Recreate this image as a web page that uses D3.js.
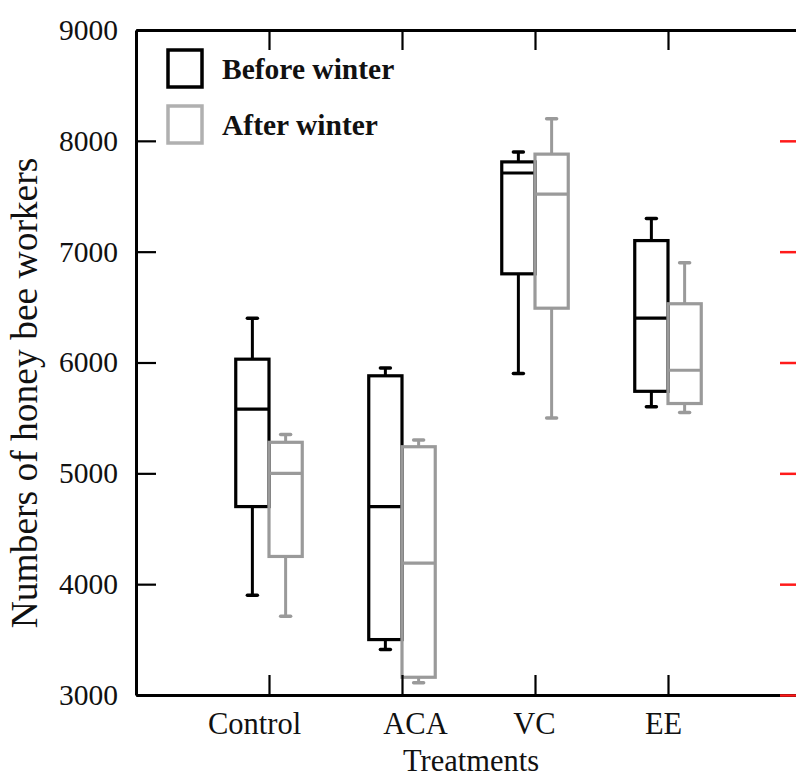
<!DOCTYPE html>
<html>
<head>
<meta charset="utf-8">
<script src="https://cdn.jsdelivr.net/npm/d3@7"></script>
<style>
  body { margin: 0; background: #fff; }
  svg { display: block; }
</style>
</head>
<body>
<script>
// Data
const categories = ["Control", "ACA", "VC", "EE"];
const yTicks = [3000, 4000, 5000, 6000, 7000, 8000, 9000];

// Before winter (black)
const beforeMin = [3900, 3410, 5900, 5600];
const beforeQ1  = [4700, 3500, 6800, 5740];
const beforeMed = [5580, 4700, 7710, 6400];
const beforeQ3  = [6030, 5880, 7810, 7100];
const beforeMax = [6400, 5950, 7900, 7300];

// After winter (gray)
const afterMin = [3710, 3110, 5500, 5550];
const afterQ1  = [4250, 3160, 6490, 5630];
const afterMed = [5000, 4190, 7520, 5930];
const afterQ3  = [5280, 5240, 7880, 6530];
const afterMax = [5350, 5300, 8200, 6900];

const width = 796, height = 780;
const font = "'Liberation Serif', 'Times New Roman', serif";

const svg = d3.select("body").append("svg")
    .attr("width", width)
    .attr("height", height)
    .style("font-family", font);

// scales
const x = d3.scaleLinear().domain([0, 5]).range([136, 801]);
const y = d3.scaleLinear().domain([3000, 9000]).range([695, 30]);
const boxW = 0.25; // in x units

const series = [
    { name: "Before winter", color: "#000", side: -1,
      min: beforeMin, q1: beforeQ1, med: beforeMed, q3: beforeQ3, max: beforeMax },
    { name: "After winter", color: "#9a9a9a", side: 1,
      min: afterMin, q1: afterQ1, med: afterMed, q3: afterQ3, max: afterMax }
];

// boxes
series.forEach(s => {
    const rows = categories.map((c, i) => ({
        i: i + 1, min: s.min[i], q1: s.q1[i], med: s.med[i], q3: s.q3[i], max: s.max[i]
    }));
    const g = svg.append("g")
        .attr("stroke", s.color)
        .attr("fill", "none");

    const x0 = d => s.side < 0 ? x(d.i - boxW) : x(d.i);
    const x1 = d => s.side < 0 ? x(d.i) : x(d.i + boxW);
    const xc = d => (x0(d) + x1(d)) / 2;

    // whiskers
    g.selectAll(".wu").data(rows).join("line")
        .attr("x1", xc).attr("x2", xc)
        .attr("y1", d => y(d.q3)).attr("y2", d => y(d.max))
        .attr("stroke-width", 3);
    g.selectAll(".wl").data(rows).join("line")
        .attr("x1", xc).attr("x2", xc)
        .attr("y1", d => y(d.q1)).attr("y2", d => y(d.min))
        .attr("stroke-width", 3);
    // caps
    g.selectAll(".cu").data(rows).join("line")
        .attr("x1", d => xc(d) - 5).attr("x2", d => xc(d) + 5)
        .attr("y1", d => y(d.max)).attr("y2", d => y(d.max))
        .attr("stroke-width", 3.5).attr("stroke-linecap", "round");
    g.selectAll(".cl").data(rows).join("line")
        .attr("x1", d => xc(d) - 5).attr("x2", d => xc(d) + 5)
        .attr("y1", d => y(d.min)).attr("y2", d => y(d.min))
        .attr("stroke-width", 3.5).attr("stroke-linecap", "round");
    // box
    g.selectAll(".box").data(rows).join("rect")
        .attr("x", x0)
        .attr("width", d => x1(d) - x0(d))
        .attr("y", d => y(d.q3))
        .attr("height", d => y(d.q1) - y(d.q3))
        .attr("stroke-width", 3.2);
    // median
    g.selectAll(".med").data(rows).join("line")
        .attr("x1", x0).attr("x2", x1)
        .attr("y1", d => y(d.med)).attr("y2", d => y(d.med))
        .attr("stroke-width", 3.2);
});

// axes
const styleAxis = g => {
    g.select(".domain").attr("stroke", "#000").attr("stroke-width", 3);
    g.selectAll(".tick line").attr("stroke", "#000").attr("stroke-width", 2.2);
    g.selectAll("text").attr("font-family", font).attr("fill", "#111");
};

svg.append("g")
    .attr("transform", `translate(${x(0)},0)`)
    .call(d3.axisLeft(y).tickValues(yTicks).tickSizeInner(-20).tickSizeOuter(0).tickPadding(18)
        .tickFormat(d3.format("d")))
    .call(styleAxis)
    .call(g => g.selectAll("text").attr("font-size", 29.5));

svg.append("g")
    .attr("transform", `translate(0,${y(9000)})`)
    .call(d3.axisTop(x).tickValues([1, 2, 3, 4]).tickSizeInner(-20).tickSizeOuter(0).tickFormat(""))
    .call(styleAxis);

const labelDx = [-15, 13, -1, -5];
svg.append("g")
    .attr("transform", `translate(0,${y(3000)})`)
    .call(d3.axisBottom(x).tickValues([1, 2, 3, 4]).tickSizeInner(-20).tickSizeOuter(0).tickPadding(17)
        .tickFormat(d => categories[d - 1]))
    .call(styleAxis)
    .call(g => g.selectAll("text").attr("font-size", 30.5).attr("dx", (d, i) => labelDx[i]));

// red right-hand ticks (right axis sits just outside the frame)
svg.append("g")
    .attr("transform", `translate(${x(5) - 1},0)`)
    .call(d3.axisRight(y).tickValues(yTicks.slice(0, 6)).tickSizeInner(-20).tickSizeOuter(0).tickFormat(""))
    .call(g => g.select(".domain").remove())
    .call(g => g.selectAll(".tick line").attr("stroke", "#ff1a1a").attr("stroke-width", 2.5));

// axis titles
svg.append("text")
    .attr("x", 471).attr("y", 771)
    .attr("text-anchor", "middle")
    .attr("font-size", 30.5)
    .attr("fill", "#111")
    .text("Treatments");

svg.append("text")
    .attr("transform", "translate(37,393) rotate(-90)")
    .attr("text-anchor", "middle")
    .attr("font-size", 37.5)
    .attr("fill", "#111")
    .text("Numbers of honey bee workers");

// legend
const legend = svg.append("g");
series.forEach((s, i) => {
    legend.append("rect")
        .attr("x", 168).attr("y", 50 + i * 56)
        .attr("width", 34).attr("height", 37)
        .attr("fill", "none")
        .attr("stroke", i === 0 ? "#000" : "#b0b0b0")
        .attr("stroke-width", 3.5);
    legend.append("text")
        .attr("x", 222).attr("y", 79 + i * 56)
        .attr("font-size", 29.5)
        .attr("font-weight", "bold")
        .attr("fill", "#111")
        .text(s.name);
});
</script>
</body>
</html>
